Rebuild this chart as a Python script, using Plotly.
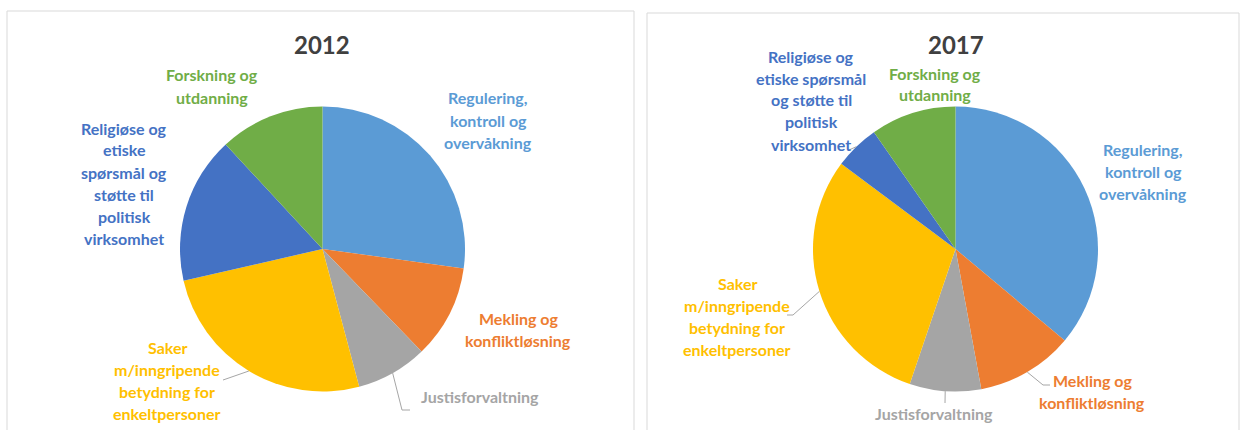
import math
import plotly.graph_objects as go

# Share of cases by subject area (percent)
categories = [
    "Regulering, kontroll og overvåkning",
    "Mekling og konfliktløsning",
    "Justisforvaltning",
    "Saker m/inngripende betydning for enkeltpersoner",
    "Religiøse og etiske spørsmål og støtte til politisk virksomhet",
    "Forskning og utdanning",
]
values_2012 = [27.2, 10.6, 8.1, 25.6, 16.7, 11.9]
values_2017 = [36.1, 11.0, 8.1, 30.0, 5.1, 9.7]
years = ["2012", "2017"]

colors = ["#5B9BD5", "#ED7D31", "#A5A5A5", "#FFC000", "#4472C4", "#70AD47"]

W, H = 1250, 430
FONT = "Lato"
LINE_H = 22


def px(x):
    return x / W


def py(y):
    return 1 - y / H


# pie geometry in pixels: centre x, centre y, radius
pies = [
    dict(cx=322.5, cy=249, r=142.5, values=values_2012, title=years[0], title_x=322, title_y=44),
    dict(cx=955.5, cy=249, r=142.5, values=values_2017, title=years[1], title_x=956, title_y=45),
]

# label text blocks: (category index, centre x, first-line y, lines)
labels = [
    [
        (0, 488, 98, ["Regulering,", "kontroll og", "overvåkning"]),
        (1, 518, 318, ["Mekling og", "konfliktløsning"]),
        (2, 480, 396, ["Justisforvaltning"]),
        (3, 167, 347, ["Saker", "m/inngripende", "betydning for", "enkeltpersoner"]),
        (4, 124, 128, ["Religiøse og", "etiske", "spørsmål og", "støtte til", "politisk", "virksomhet"]),
        (5, 212, 75, ["Forskning og", "utdanning"]),
    ],
    [
        (0, 1143, 149, ["Regulering,", "kontroll og", "overvåkning"]),
        (1, 1092, 380, ["Mekling og", "konfliktløsning"]),
        (2, 934, 413, ["Justisforvaltning"]),
        (3, 737, 283, ["Saker", "m/inngripende", "betydning for", "enkeltpersoner"]),
        (4, 811, 56, ["Religiøse og", "etiske spørsmål", "og støtte til", "politisk", "virksomhet"]),
        (5, 935, 73, ["Forskning og", "utdanning"]),
    ],
]

# leader lines: (pie index, category index, following points in pixels)
leaders = [
    (0, 2, [(402, 410), (410, 410)]),
    (0, 3, [(223, 380)]),
    (1, 3, [(793, 315), (787, 315)]),
    (1, 1, [(1043, 385), (1050, 385)]),
    (1, 2, [(945, 403)]),
    (1, 4, [(849, 150)]),
]


def slice_edge_point(p, idx):
    """Point on the rim at the middle of slice idx (clockwise from 12 o'clock)."""
    vals = p["values"]
    total = sum(vals)
    start = sum(vals[:idx]) / total * 360
    mid = math.radians(start + vals[idx] / total * 180)
    return p["cx"] + p["r"] * math.sin(mid), p["cy"] - p["r"] * math.cos(mid)


fig = go.Figure()
shapes = []
annotations = []

# panel frames
for x0, y0, x1, y1 in [(7, 11, 634, 440), (647, 13, 1239, 440)]:
    shapes.append(dict(type="rect", xref="paper", yref="paper",
                       x0=px(x0), x1=px(x1), y0=py(y1), y1=py(y0),
                       line=dict(color="#D9D9D9", width=1), fillcolor="rgba(0,0,0,0)", layer="below"))

for k, p in enumerate(pies):
    fig.add_trace(go.Pie(
        labels=categories,
        values=p["values"],
        sort=False,
        direction="clockwise",
        rotation=0,
        textinfo="none",
        marker=dict(colors=colors, line=dict(width=0)),
        domain=dict(x=[px(p["cx"] - p["r"]), px(p["cx"] + p["r"])],
                    y=[py(p["cy"] + p["r"]), py(p["cy"] - p["r"])]),
        showlegend=False,
        hovertemplate="%{label}: %{value}%<extra>" + p["title"] + "</extra>",
    ))
    annotations.append(dict(text="<b>" + p["title"] + "</b>", x=px(p["title_x"]), y=py(p["title_y"]),
                            xref="paper", yref="paper", showarrow=False, xanchor="center", yanchor="middle",
                            font=dict(family=FONT, size=24, color="#404040")))
    for idx, lx, ly, lines in labels[k]:
        for i, line in enumerate(lines):
            annotations.append(dict(text="<b>" + line + "</b>", x=px(lx), y=py(ly + i * LINE_H),
                                    xref="paper", yref="paper", showarrow=False,
                                    xanchor="center", yanchor="middle",
                                    font=dict(family=FONT, size=16, color=colors[idx])))

for k, idx, pts in leaders:
    sx, sy = slice_edge_point(pies[k], idx)
    path = f"M {px(sx)} {py(sy)}" + "".join(f" L {px(x)} {py(y)}" for x, y in pts)
    shapes.append(dict(type="path", xref="paper", yref="paper", path=path,
                       line=dict(color="#A6A6A6", width=1)))

fig.update_layout(
    width=W, height=H,
    margin=dict(l=0, r=0, t=0, b=0),
    paper_bgcolor="white",
    plot_bgcolor="white",
    shapes=shapes,
    annotations=annotations,
)

fig.write_html("out.html")
